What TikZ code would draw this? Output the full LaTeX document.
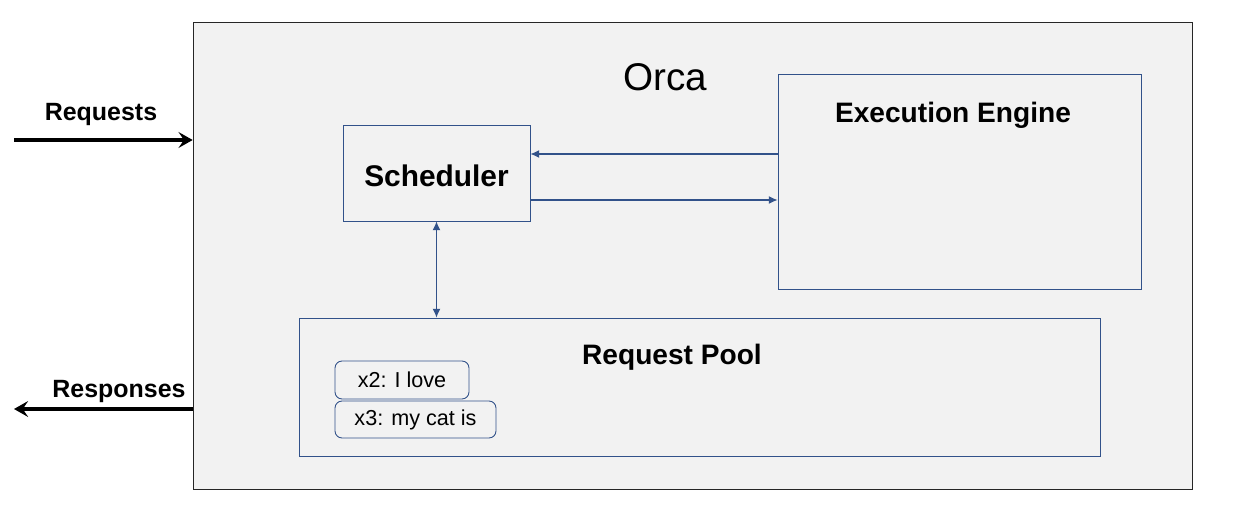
\documentclass[tikz,border=0pt]{standalone}
\usepackage{fontspec}
\setmainfont{Liberation Sans}
\usetikzlibrary{arrows.meta}
\definecolor{boxblue}{RGB}{50,82,138}
\definecolor{panel}{RGB}{242,242,242}
\tikzset{
  blk/.style={draw=boxblue,line width=0.5pt,fill=panel,inner sep=0pt},
  tok/.style={blk,rounded corners=4pt,font=\fontsize{12.3}{14}\selectfont},
  ttl/.style={font=\bfseries\fontsize{16}{19}\selectfont},
  io/.style={line width=2.4pt,-{Stealth[length=8pt,width=9pt,inset=3pt]}},
  link/.style={draw=boxblue,line width=0.6pt,-{Latex[length=5pt,width=4.5pt]}}
}

\begin{document}
\begin{tikzpicture}[x=0.02cm,y=-0.02cm]
\useasboundingbox (0,0) rectangle (1245,517);
\node[draw=black!85,line width=0.5pt,fill=panel,minimum width=20cm,minimum height=9.34cm](orca) at (693,255.5){};
\node[font=\fontsize{22}{26}\selectfont](orcaname) at (665,77){Orca};
\node[blk,minimum width=7.26cm,minimum height=4.3cm](eng) at (959.5,181.5){};
\node[ttl](engname) at (953,115){Execution Engine};
\node[blk,minimum width=3.74cm,minimum height=1.92cm,font=\bfseries\fontsize{17}{20}\selectfont,text height=15.6pt,text depth=0pt](sched) at (436.5,173){Scheduler};
\node[blk,minimum width=16.04cm,minimum height=2.76cm](pool) at (700,387){};
\node[ttl](poolname) at (672,357){Request Pool};
\node[tok,minimum width=2.68cm,minimum height=0.76cm](x2) at (402,380){x2: I love};
\node[tok,minimum width=3.22cm,minimum height=0.74cm](x3) at (415.5,419.5){x3: my cat is};
\draw[link] ([yshift=0.38cm]eng.west|-sched.east) -- ([yshift=0.38cm]sched.east);
\draw[link] ([yshift=-0.54cm]sched.east) -- ([yshift=-0.54cm]eng.west|-sched.east);
\draw[link,{Latex[length=5pt,width=4.5pt]}-{Latex[length=5pt,width=4.5pt]}] (sched.south) -- (sched.south|-pool.north);
\coordinate (reqin) at (14,140);
\coordinate (respout) at (14,409);
\node[font=\bfseries\fontsize{14.2}{17}\selectfont](req) at (101,115){Requests};
\node[font=\bfseries\fontsize{14.2}{17}\selectfont](resp) at (119,392){Responses};
\draw[io] (reqin) -- (reqin-|orca.west);
\draw[io] (respout-|orca.west) -- (respout);
\end{tikzpicture}
\end{document}
